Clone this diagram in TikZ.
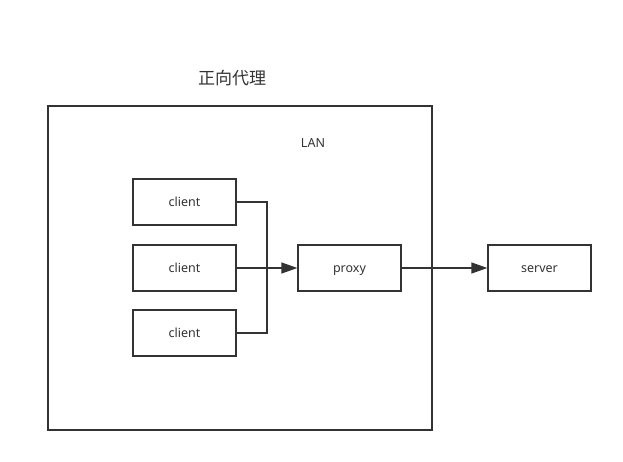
\documentclass[tikz,border=0pt]{standalone}
\usepackage{fontspec}
\setmainfont{Noto Sans}
\newfontfamily\cjk{Noto Sans CJK SC}
\usetikzlibrary{arrows.meta}
\definecolor{ink}{HTML}{333333}
\begin{document}
\begin{tikzpicture}[x=1pt,y=-1pt,
  box/.style={draw=ink, line width=1.3pt, minimum width=103pt, minimum height=46pt,
    inner sep=0pt, text height=12.8pt, text depth=3pt, text=ink, font=\fontsize{12.5}{14}\selectfont},
  link/.style={draw=ink, line width=1.3pt},
  arr/.style={link, -{Triangle[length=16pt,width=11pt]}}]
  \useasboundingbox (0,0) rectangle (623,462);
  \node[text=ink, font=\cjk\fontsize{17}{20}\selectfont] (title) at (232,78) {正向代理};
  \draw[link] (48,106) rectangle (432,430);
  \node[text=ink, font=\fontsize{12.5}{14}\selectfont] (lan) at (313,143) {LAN};
  % clients
  \node[box] (c1) at (184.5,202) {client};
  \node[box] (c2) at (184.5,268) {client};
  \node[box] (c3) at (184.5,333) {client};
  \node[box] (proxy) at (349.5,268) {proxy};
  \node[box] (server) at (539.5,268) {server};
  \coordinate (join) at (267,268);
  \draw[link] (c1.east) -| (join);
  \draw[link] (c3.east) -| (join);
  \draw[arr] (c2) -- (proxy);
  \draw[arr] (proxy) -- (server);
\end{tikzpicture}
\end{document}
